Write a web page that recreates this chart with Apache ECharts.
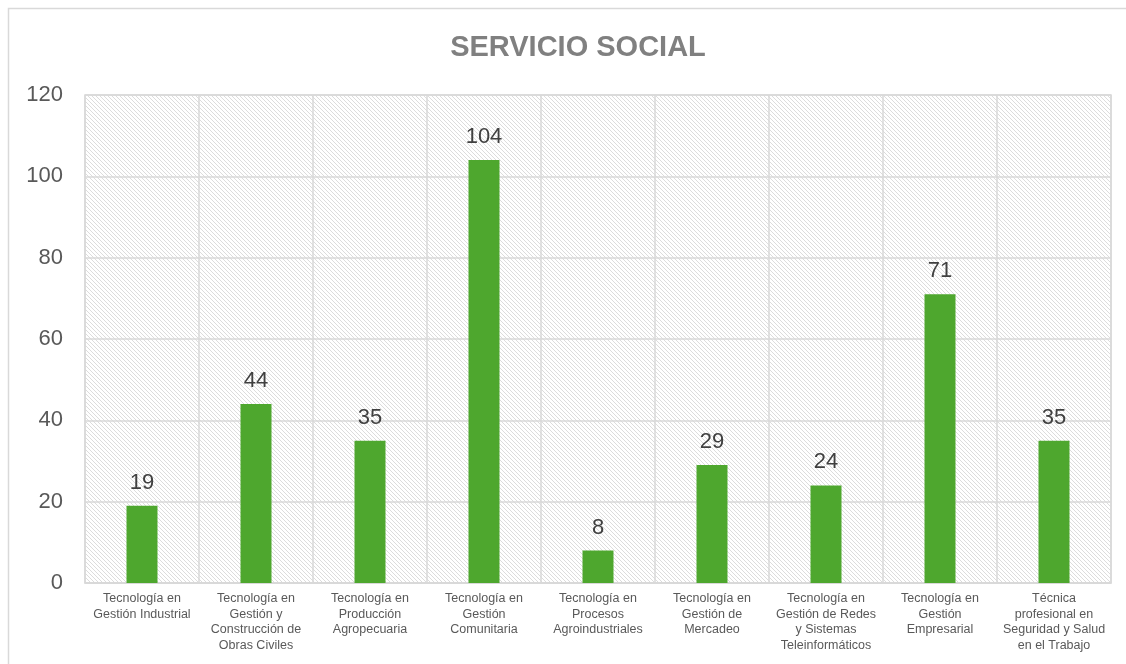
<!DOCTYPE html>
<html>
<head>
<meta charset="utf-8">
<script src="https://cdn.jsdelivr.net/npm/echarts@6/dist/echarts.min.js"></script>
<style>
html,body{margin:0;padding:0;background:#fff;}
#chart{width:1126px;height:664px;}
</style>
</head>
<body>
<div id="chart"></div>
<script>
const categories = [
  "Tecnología en\nGestión Industrial",
  "Tecnología en\nGestión y\nConstrucción de\nObras Civiles",
  "Tecnología en\nProducción\nAgropecuaria",
  "Tecnología en\nGestión\nComunitaria",
  "Tecnología en\nProcesos\nAgroindustriales",
  "Tecnología en\nGestión de\nMercadeo",
  "Tecnología en\nGestión de Redes\ny Sistemas\nTeleinformáticos",
  "Tecnología en\nGestión\nEmpresarial",
  "Técnica\nprofesional en\nSeguridad y Salud\nen el Trabajo"
];
const values = [19, 44, 35, 104, 8, 29, 24, 71, 35];
const titleText = "SERVICIO SOCIAL";

// hatch pattern tile
const tile = document.createElement('canvas');
tile.width = 8; tile.height = 8;
const ctx = tile.getContext('2d');
ctx.fillStyle = '#ffffff';
ctx.fillRect(0, 0, 8, 8);
ctx.fillStyle = '#dcdcdc';
for (let y = 0; y < 8; y++) {
  for (let x = 0; x < 8; x++) {
    if (((x - y) % 4 + 4) % 4 === 0) ctx.fillRect(x, y, 1, 1);
  }
}

const chart = echarts.init(document.getElementById('chart'));
chart.setOption({
  animation: false,
  backgroundColor: '#ffffff',
  title: {
    text: titleText,
    left: 573, top: 28, textAlign: 'center',
    textStyle: { fontFamily: 'Liberation Sans, Arial, sans-serif', fontSize: 29, fontWeight: 'bold', color: '#808080' }
  },
  graphic: [{
    type: 'rect', left: 6, top: 6, silent: true, z: -10,
    shape: { width: 1130, height: 670 },
    style: { fill: 'none', stroke: '#d9d9d9', lineWidth: 1.5 }
  }],
  grid: {
    left: 85, right: 15, top: 95, bottom: 81,
    show: true,
    backgroundColor: { image: tile, repeat: 'repeat' },
    borderColor: '#d9d9d9', borderWidth: 1.5
  },
  xAxis: {
    type: 'category',
    data: categories,
    axisLine: { show: true, lineStyle: { color: '#d9d9d9', width: 1.5 } },
    axisTick: { show: false },
    splitLine: { show: true, interval: 0, lineStyle: { color: '#d9d9d9', width: 1.5 } },
    axisLabel: {
      interval: 0, margin: 8,
      fontFamily: 'Liberation Sans, Arial, sans-serif',
      fontSize: 12.5, lineHeight: 15.5, color: '#595959'
    }
  },
  yAxis: {
    type: 'value', min: 0, max: 120, interval: 20,
    axisLine: { show: false },
    axisTick: { show: false },
    splitLine: { show: true, lineStyle: { color: '#d9d9d9', width: 1.5 } },
    axisLabel: {
      margin: 22,
      fontFamily: 'Liberation Sans, Arial, sans-serif',
      fontSize: 22, color: '#595959'
    }
  },
  series: [{
    type: 'bar',
    data: values,
    barWidth: 31,
    itemStyle: { color: '#4ea72e' },
    label: {
      show: true, position: 'top', distance: 12,
      fontFamily: 'Liberation Sans, Arial, sans-serif',
      fontSize: 22, color: '#404040'
    }
  }]
});
</script>
</body>
</html>
